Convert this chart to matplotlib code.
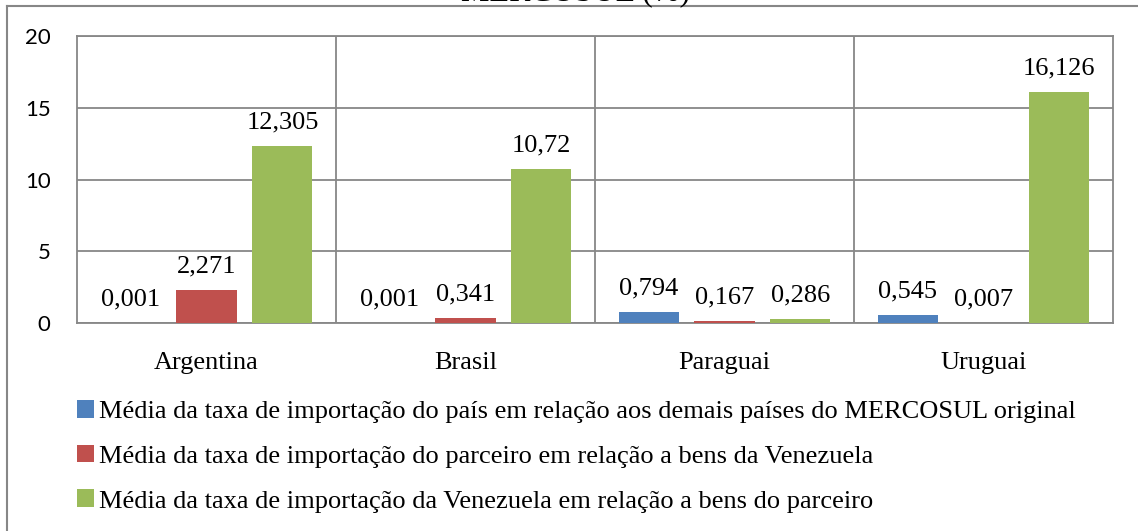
import numpy as np
import matplotlib.pyplot as plt
from matplotlib.patches import Patch
from matplotlib.lines import Line2D

# DATA
countries = ["Argentina", "Brasil", "Paraguai", "Uruguai"]
media_mercosul = [0.001, 0.001, 0.794, 0.545]
media_parceiro = [2.271, 0.341, 0.167, 0.007]
media_venezuela = [12.305, 10.72, 0.286, 16.126]
series_names = [
    "Média da taxa de importação do país em relação aos demais países do MERCOSUL original",
    "Média da taxa de importação do parceiro em relação a bens da Venezuela",
    "Média da taxa de importação da Venezuela em relação a bens do parceiro",
]
yticks = [0, 5, 10, 15, 20]

colors = ["#4F81BD", "#C0504D", "#9BBB59"]
grid_c = "#878787"
serif = "Liberation Serif"

fig = plt.figure(figsize=(11.38, 5.31), dpi=100)
ax = fig.add_axes([77 / 1138, 1 - 323 / 531, (1113 - 77) / 1138, (323 - 36) / 531])

x = np.arange(len(countries))
step = 0.293
width = 0.232
series = [media_mercosul, media_parceiro, media_venezuela]
for i, vals in enumerate(series):
    pos = x + (i - 1) * step
    bars = ax.bar(pos, vals, width, color=colors[i], zorder=3)
    labels = [f"{v:g}".replace(".", ",") for v in vals]
    ax.bar_label(bars, labels=labels, padding=9, fontsize=19, family=serif)

ax.set_xlim(-0.5, 3.5)
ax.set_ylim(0, 20)
ax.set_yticks(yticks)
ax.set_xticks(x)
ax.set_xticklabels(countries, family=serif, fontsize=19)
ax.tick_params(axis="x", length=0, pad=21)
ax.tick_params(axis="y", length=0, pad=19, labelsize=16)
for lab in ax.get_yticklabels():
    lab.set_family("Lato")

ax.yaxis.grid(True, color=grid_c, linewidth=1.3, zorder=0)
for b in [0.5, 1.5, 2.5]:
    ax.axvline(b, color=grid_c, linewidth=1.3, zorder=0)
for s in ax.spines.values():
    s.set_color(grid_c)
    s.set_linewidth(1.3)

handles = [Patch(facecolor=c) for c in colors]
fig.legend(handles, series_names, loc="upper left", bbox_to_anchor=(77 / 1138, 1 - 400 / 531),
           frameon=False, prop={"family": serif, "size": 19},
           handlelength=0.65, handleheight=0.65, handletextpad=0.2, labelspacing=0.82,
           borderpad=0, borderaxespad=0)

# outer frame of the chart (only left and top edges visible)
fig.add_artist(Line2D([7 / 1138, 7 / 1138], [0, 1 - 6 / 531], color=grid_c, linewidth=1.5))
fig.add_artist(Line2D([7 / 1138, 1], [1 - 6 / 531, 1 - 6 / 531], color=grid_c, linewidth=1.5))

# title, almost entirely above the top edge of the picture
fig.text(690 / 1138, 1, "MERCOSUL (%)", ha="right", va="baseline",
         family=serif, fontsize=23)

fig.savefig("out.png", dpi=100)
